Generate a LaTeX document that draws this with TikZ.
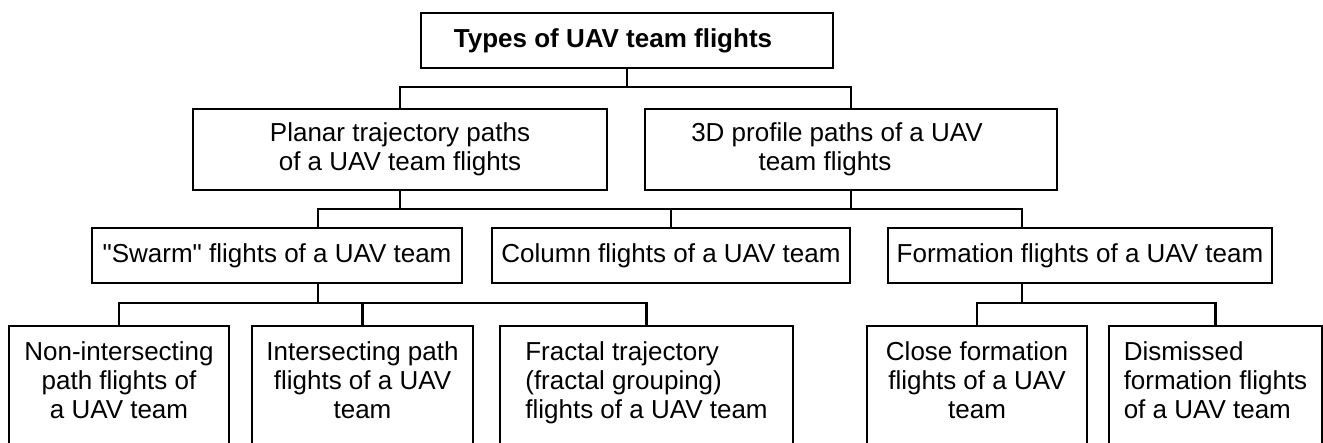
\documentclass[tikz,border=0pt]{standalone}
\usepackage{fontspec}
\setmainfont{Liberation Sans}[Ligatures=TeXOff]
\usepackage{tikz}
\usetikzlibrary{calc}

\begin{document}
\begin{tikzpicture}[x=0.5pt, y=-0.5pt,
    box/.style={draw, line width=1.1pt, inner xsep=2pt, inner ysep=0pt, minimum height=27.5pt, align=center, font=\fontsize{13}{14.5}\selectfont},
    leaf/.style={box, anchor=north, inner ysep=8pt, text depth=80pt, minimum height=0pt}]
    \clip (0,0) rectangle (1323,443);
    \node[box, minimum width=206pt, font=\fontsize{13}{14.5}\selectfont\bfseries] (types) at (627,40.5) {Types of UAV team flights\hspace*{14pt}};
    \node[box, minimum width=207pt, minimum height=40.5pt] (plan) at (400,149.5) {Planar trajectory paths\\of a UAV team flights};
    \node[box, minimum width=206pt, minimum height=40.5pt] (prof) at (851,149.5) {3D profile paths of a UAV\hspace*{14pt}\\team flights\hspace*{26pt}};
    \node[box, minimum width=185pt] (swarm) at (277,255.5) {"Swarm" flights of a UAV team};
    \node[box, minimum width=179pt] (column) at (671,255.5) {Column flights of a UAV team};
    \node[box, minimum width=192pt] (form) at (1080,255.5) {Formation flights of a UAV team};
    \node[leaf, minimum width=110pt] (nonint) at (119,325) {Non-intersecting\\path flights of\\a UAV team};
    \node[leaf, minimum width=110.5pt] (inter) at (362.5,325) {Intersecting path\\flights of a UAV\\team};
    \node[leaf, minimum width=146.5pt, align=left] (fract) at (646.5,325) {Fractal trajectory\\(fractal grouping)\\flights of a UAV team};
    \node[leaf, minimum width=110pt] (close) at (977,325) {Close formation\\flights of a UAV\\team};
    \node[leaf, minimum width=106.5pt, align=left] (dism) at (1215.5,325) {Dismissed\\formation flights\\of a UAV team};

    \coordinate (j0) at (627,87); \coordinate (j1) at (671,209);
    \coordinate (s1) at (318,209); \coordinate (f1) at (1022,209);
    \coordinate (s2) at (318,303); \coordinate (f2) at (1022,303);
    \draw[line width=1.1pt] (types.south) -- (j0); \draw[line width=1.1pt] (plan.north) |- (j0) -| (prof.north);
    \draw[line width=1.1pt] (plan.south) -- (plan.south |- j1); \draw[line width=1.1pt] (prof.south) -- (prof.south |- j1);
    \draw[line width=1.1pt] (swarm.north -| s1) -- (s1) -- (f1) -- (form.north -| f1); \draw[line width=1.1pt] (column.north) -- (j1);
    \draw[line width=1.1pt] (swarm.south -| s2) -- (s2); \draw[line width=1.1pt] (nonint.north) |- (s2) -| (fract.north);
    \draw[line width=1.1pt] (inter.north) -- (inter.north |- s2);
    \draw[line width=1.1pt] (form.south -| f2) -- (f2); \draw[line width=1.1pt] (close.north) |- (f2) -| (dism.north);
\end{tikzpicture}
\end{document}
